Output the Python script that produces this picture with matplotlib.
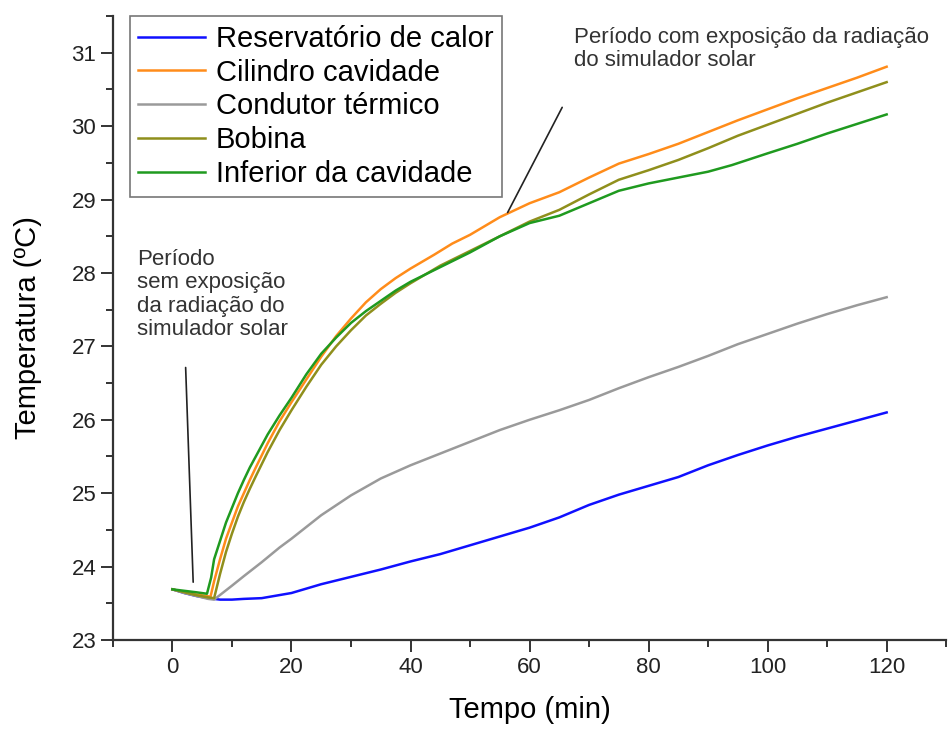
import matplotlib
matplotlib.use("Agg")
import matplotlib.pyplot as plt
from matplotlib.ticker import MultipleLocator

plt.rcParams['font.family'] = ['Liberation Sans', 'DejaVu Sans']

## temperatures (min, ºC)
t_res = [0, 2, 4, 6, 8, 10, 12, 15, 20, 25, 30, 35, 40, 45, 50, 55, 60, 65, 70, 75, 80, 85, 90, 95, 100, 105, 110, 115, 120]
reservatorio = [23.69, 23.64, 23.60, 23.57, 23.55, 23.55, 23.56, 23.57, 23.64, 23.76, 23.86, 23.96, 24.07, 24.17, 24.29, 24.41, 24.53,
                24.67, 24.84, 24.98, 25.10, 25.22, 25.38, 25.52, 25.65, 25.77, 25.88, 25.99, 26.10]

t_cil = [0, 2, 4, 6.4, 7, 8, 9, 10, 11, 12, 13, 14, 16, 18, 20, 22.5, 25, 27.5, 30, 32.5, 35, 37.5, 40, 44, 47, 50, 55, 60,
         65, 70, 75, 80, 85, 90, 95, 100, 105, 110, 115, 120]
cilindro = [23.69, 23.65, 23.62, 23.59, 23.80, 24.10, 24.38, 24.60, 24.82, 25.00, 25.18, 25.35, 25.68, 25.98, 26.24, 26.55, 26.86,
            27.14, 27.38, 27.60, 27.78, 27.93, 28.06, 28.25, 28.40, 28.52, 28.76, 28.95,
            29.10, 29.30, 29.49, 29.62, 29.76, 29.92, 30.08, 30.23, 30.38, 30.52, 30.66, 30.81]

t_cond = [0, 2, 4, 6, 7, 10, 12, 15, 18, 20, 25, 30, 35, 40, 45, 50, 55, 60, 65, 70, 75, 80, 85, 90, 95, 100, 105, 110, 115, 120]
condutor = [23.69, 23.64, 23.60, 23.56, 23.55, 23.74, 23.87, 24.06, 24.26, 24.38, 24.70, 24.97, 25.20, 25.38, 25.54, 25.70, 25.86, 26.00,
            26.13, 26.27, 26.43, 26.58, 26.72, 26.87, 27.03, 27.17, 27.31, 27.44, 27.56, 27.67]

t_bob = [0, 2, 4, 6, 7, 8, 9, 10, 11, 12, 13, 14, 16, 18, 20, 22.5, 25, 27.5, 30, 32.5, 35, 37.5, 40, 45, 50, 55, 60,
         65, 70, 75, 80, 85, 90, 95, 100, 105, 110, 115, 120]
bobina = [23.69, 23.65, 23.61, 23.58, 23.57, 23.90, 24.20, 24.45, 24.68, 24.88, 25.06, 25.23, 25.56, 25.86, 26.13, 26.45, 26.75,
          27.00, 27.22, 27.42, 27.58, 27.73, 27.86, 28.10, 28.30, 28.50, 28.70,
          28.86, 29.07, 29.27, 29.40, 29.54, 29.70, 29.87, 30.02, 30.17, 30.32, 30.46, 30.60]

t_inf = [0, 2, 4, 5.8, 6.5, 7, 8, 9, 10, 11, 12, 13, 14, 16, 18, 20, 22.5, 25, 27.5, 30, 32.5, 35, 37.5, 40, 44, 50, 55, 60,
         65, 70, 75, 80, 85, 90, 94, 100, 105, 110, 115, 120]
inferior = [23.69, 23.67, 23.65, 23.63, 23.85, 24.10, 24.35, 24.60, 24.80, 25.00, 25.18, 25.35, 25.50, 25.80, 26.06, 26.30, 26.62,
            26.90, 27.12, 27.32, 27.48, 27.62, 27.76, 27.88, 28.04, 28.28, 28.50, 28.68,
            28.78, 28.95, 29.12, 29.22, 29.30, 29.38, 29.47, 29.63, 29.76, 29.90, 30.03, 30.16]

series = [
    (t_res, reservatorio, 'Reservatório de calor', '#1010ff'),
    (t_cil, cilindro, 'Cilindro cavidade', '#ff8c1a'),
    (t_cond, condutor, 'Condutor térmico', '#9a9a9a'),
    (t_bob, bobina, 'Bobina', '#8f8f1c'),
    (t_inf, inferior, 'Inferior da cavidade', '#1f9a1f'),
]

fig = plt.figure(figsize=(9.49, 7.31), dpi=100)
ax = fig.add_axes([0.119, 0.1245, 0.878, 0.8535])

for t, y, lab, c in series:
    ax.plot(t, y, color=c, lw=1.8, label=lab)

ax.set_xlim(-10, 130)
ax.set_ylim(23, 31.5)
ax.xaxis.set_major_locator(MultipleLocator(20))
ax.xaxis.set_minor_locator(MultipleLocator(10))
ax.yaxis.set_major_locator(MultipleLocator(1))
ax.yaxis.set_minor_locator(MultipleLocator(0.5))
for s in ['top', 'right']:
    ax.spines[s].set_visible(False)
for s in ['left', 'bottom']:
    ax.spines[s].set_linewidth(1.6)
    ax.spines[s].set_color('#333333')
ax.tick_params(which='major', direction='out', length=8.5, width=1.4, colors='#333333', labelsize=16, labelcolor='#222222')
ax.tick_params(which='minor', direction='out', length=5, width=1.4, colors='#333333')
ax.set_xticks([0, 20, 40, 60, 80, 100, 120])

ax.set_xlabel('Tempo (min)', fontsize=21, labelpad=13)
ax.set_ylabel('Temperatura (ºC)', fontsize=21, labelpad=21)

leg = ax.legend(loc='upper left', bbox_to_anchor=(0.02, 1.0), borderaxespad=0, fontsize=21,
                handlelength=2.3, handletextpad=0.35, labelspacing=0.2, borderpad=0.3,
                fancybox=False, framealpha=1)
leg.get_frame().set_edgecolor('#777777')
leg.get_frame().set_linewidth(1.2)

## annotations
ax.annotate('', xy=(3.5, 23.75), xytext=(2.2, 26.75),
            arrowprops=dict(arrowstyle='-', color='#222222', lw=1.2))
ax.text(-5.9, 28.33, 'Período\nsem exposição\nda radiação do\nsimulador solar',
        fontsize=16, color='#333333', va='top', ha='left', linespacing=1.15)
ax.annotate('', xy=(56.1, 28.79), xytext=(65.7, 30.29),
            arrowprops=dict(arrowstyle='-', color='#222222', lw=1.2))
ax.text(67.4, 31.35, 'Período com exposição da radiação\ndo simulador solar',
        fontsize=16, color='#333333', va='top', ha='left', linespacing=1.15)

fig.savefig('out.png', dpi=100)
